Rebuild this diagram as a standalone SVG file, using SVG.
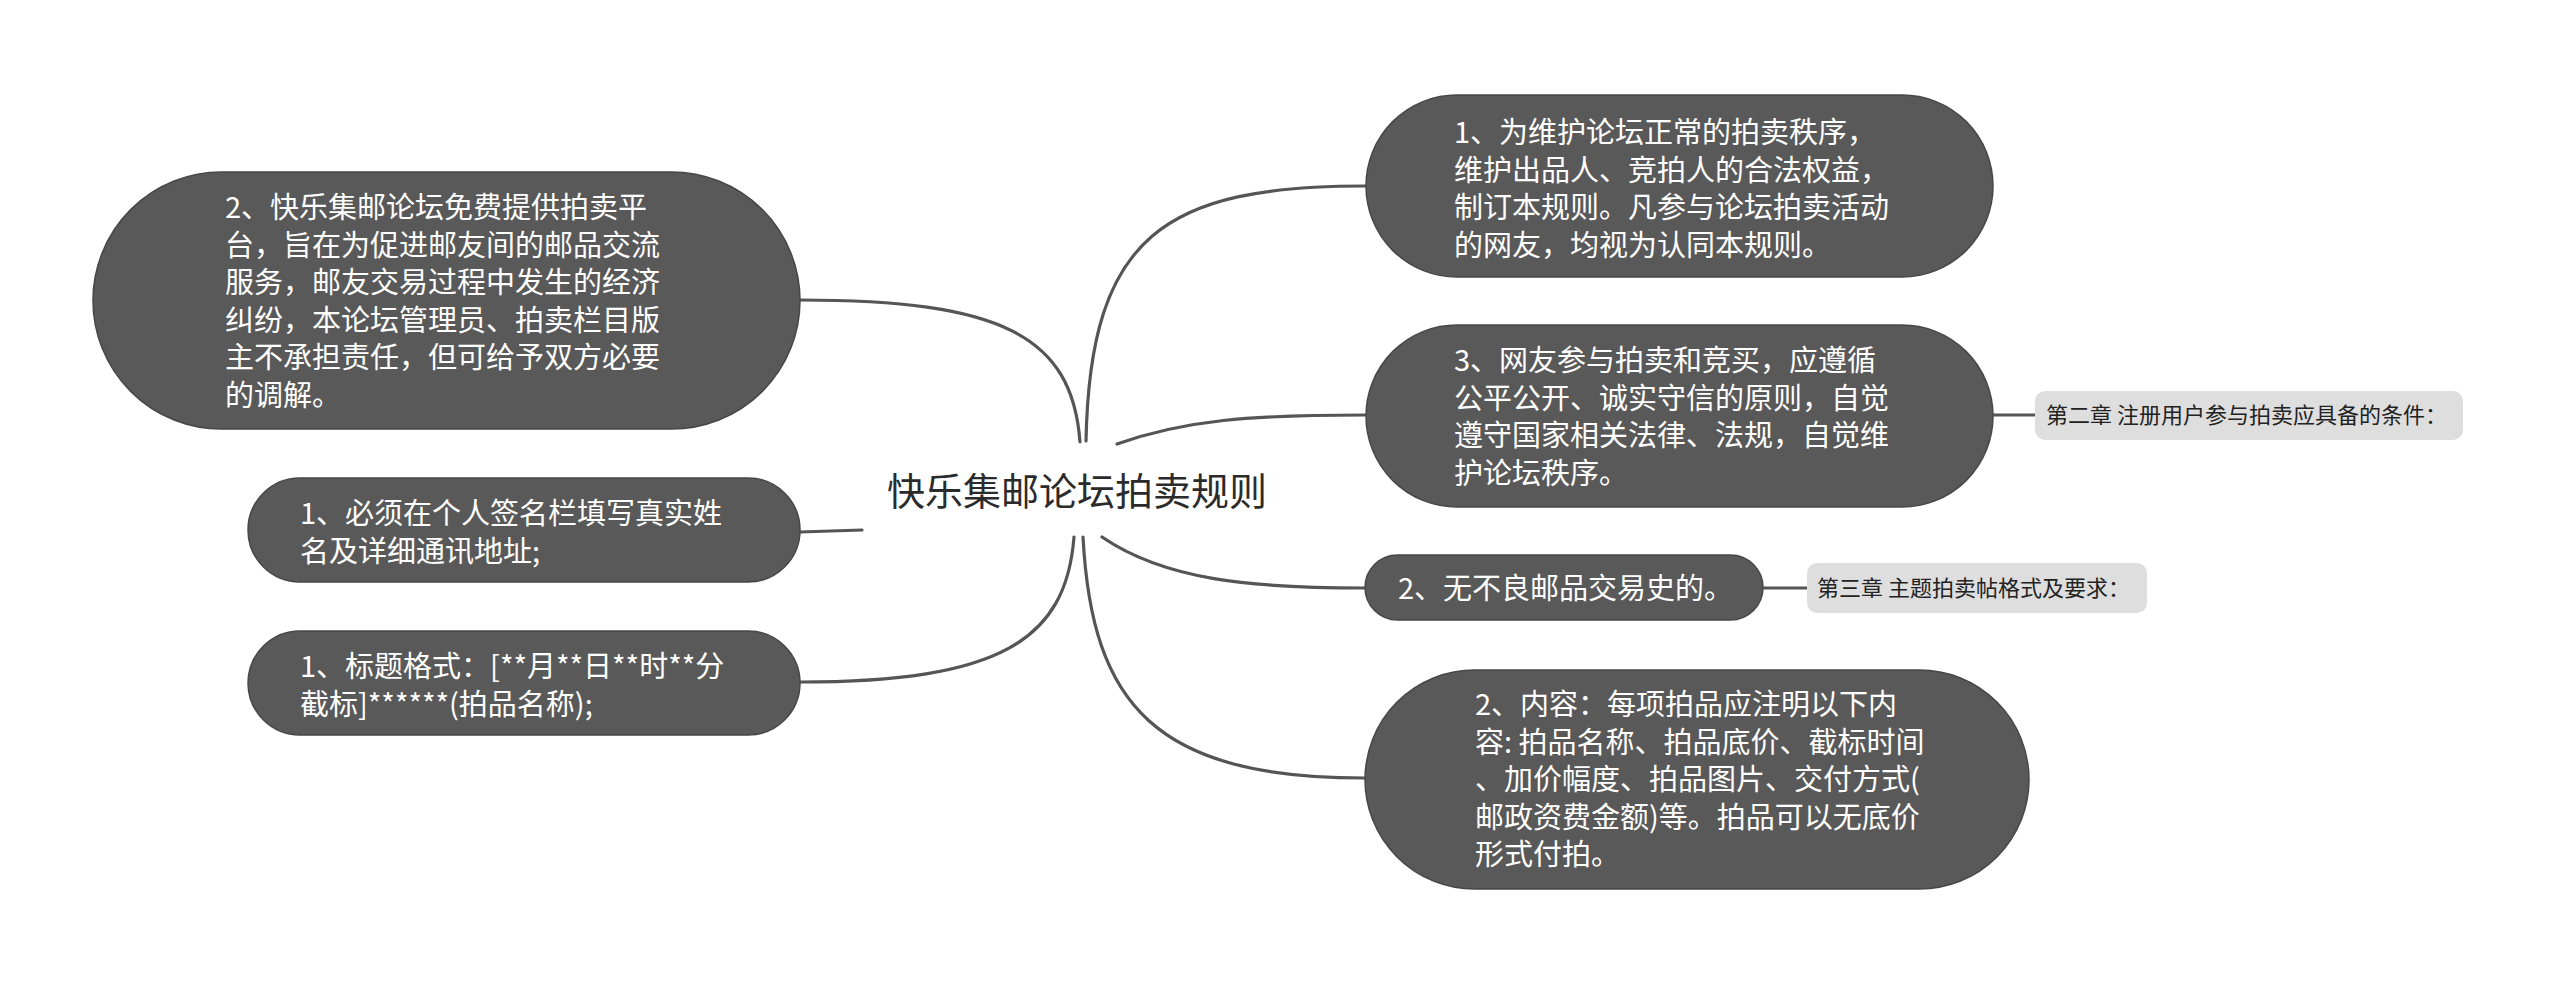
<svg xmlns="http://www.w3.org/2000/svg" width="2560" height="985" viewBox="0 0 2560 985">
<style>
.node{fill:#595959;stroke:#474747;stroke-width:1.5}
.nt{font-family:"Microsoft YaHei","Noto Sans CJK SC",sans-serif;font-size:29px;fill:#ffffff}
.lab{fill:#dedede}
.lt{font-family:"Microsoft YaHei","Noto Sans CJK SC",sans-serif;font-size:22px;fill:#222222}
.title{font-family:"Microsoft YaHei","Noto Sans CJK SC",sans-serif;font-size:38px;fill:#2b2b2b}
.conn path{fill:none;stroke:#555555;stroke-width:3.2;stroke-linecap:round}
</style>
<rect width="2560" height="985" fill="#ffffff"/>
<g id="connectors" class="conn">
<path d="M1080 442 C1072 335 1000 300 800 300"/>
<path d="M862 530 L800 532"/>
<path d="M1074 537 C1066 640 1000 682 800 682"/>
<path d="M1086 441 C1090 235 1165 186 1365 186"/>
<path d="M1117 444 C1185 420 1250 415 1365 415"/>
<path d="M1102 537 C1165 580 1250 588 1365 588"/>
<path d="M1083 537 C1092 705 1155 778 1365 778"/>
<path d="M1993 415 L2035 415"/>
<path d="M1763 588 L1807 588"/>
</g>
<g id="center">
<text class="title" x="1077" y="505" text-anchor="middle">快乐集邮论坛拍卖规则</text>
</g>
<g id="nodeA">
<rect class="node" x="93" y="172" width="707" height="257" rx="128.5"/>
<text class="nt" x="225"><tspan x="225" y="218">2、快乐集邮论坛免费提供拍卖平</tspan><tspan x="225" y="255.5">台，旨在为促进邮友间的邮品交流</tspan><tspan x="225" y="293">服务，邮友交易过程中发生的经济</tspan><tspan x="225" y="330.5">纠纷，本论坛管理员、拍卖栏目版</tspan><tspan x="225" y="368">主不承担责任，但可给予双方必要</tspan><tspan x="225" y="405.5">的调解。</tspan></text>
</g>
<g id="nodeB">
<rect class="node" x="248" y="478" width="552" height="104" rx="52"/>
<text class="nt"><tspan x="300" y="524">1、必须在个人签名栏填写真实姓</tspan><tspan x="300" y="562">名及详细通讯地址;</tspan></text>
</g>
<g id="nodeC">
<rect class="node" x="248" y="631" width="552" height="104" rx="52"/>
<text class="nt"><tspan x="300" y="677">1、标题格式：[**月**日**时**分</tspan><tspan x="300" y="715">截标]******(拍品名称);</tspan></text>
</g>
<g id="nodeR1">
<rect class="node" x="1366" y="95" width="627" height="182" rx="91"/>
<text class="nt"><tspan x="1454" y="143">1、为维护论坛正常的拍卖秩序，</tspan><tspan x="1454" y="180.5">维护出品人、竞拍人的合法权益，</tspan><tspan x="1454" y="218">制订本规则。凡参与论坛拍卖活动</tspan><tspan x="1454" y="255.5">的网友，均视为认同本规则。</tspan></text>
</g>
<g id="nodeR2">
<rect class="node" x="1366" y="325" width="627" height="182" rx="91"/>
<text class="nt"><tspan x="1454" y="371">3、网友参与拍卖和竞买，应遵循</tspan><tspan x="1454" y="408.5">公平公开、诚实守信的原则，自觉</tspan><tspan x="1454" y="446">遵守国家相关法律、法规，自觉维</tspan><tspan x="1454" y="483.5">护论坛秩序。</tspan></text>
</g>
<g id="label2">
<rect class="lab" x="2035" y="391" width="428" height="49" rx="10"/>
<text class="lt" x="2046" y="423">第二章 注册用户参与拍卖应具备的条件：</text>
</g>
<g id="nodeR3">
<rect class="node" x="1365" y="555" width="398" height="65" rx="32.5"/>
<text class="nt" x="1398" y="599">2、无不良邮品交易史的。</text>
</g>
<g id="label3">
<rect class="lab" x="1807" y="563" width="340" height="50" rx="10"/>
<text class="lt" x="1817" y="596">第三章 主题拍卖帖格式及要求：</text>
</g>
<g id="nodeR4">
<rect class="node" x="1365" y="670" width="664" height="219" rx="109.5"/>
<text class="nt"><tspan x="1475" y="715">2、内容：每项拍品应注明以下内</tspan><tspan x="1475" y="752.5">容: 拍品名称、拍品底价、截标时间</tspan><tspan x="1475" y="790">、加价幅度、拍品图片、交付方式(</tspan><tspan x="1475" y="827.5">邮政资费金额)等。拍品可以无底价</tspan><tspan x="1475" y="865">形式付拍。</tspan></text>
</g>
</svg>
